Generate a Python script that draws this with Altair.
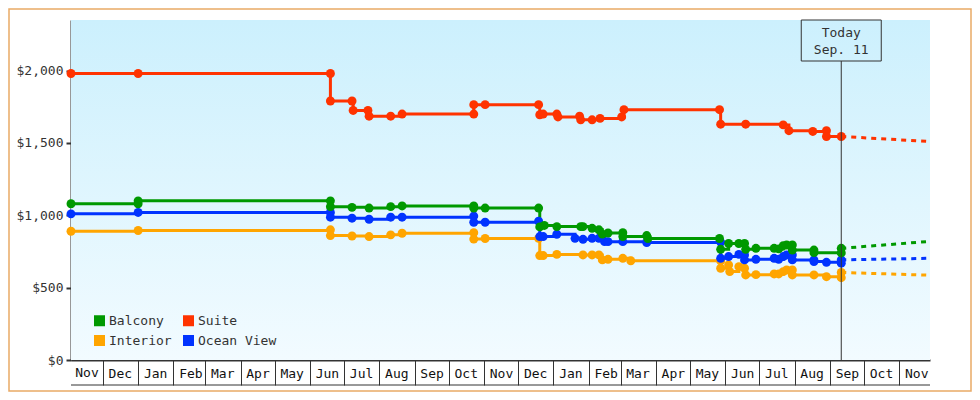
import altair as alt
import pandas as pd

FONT = "DejaVu Sans Mono"
W, H = 859, 340

# legend fills column by column, so this order gives rows Balcony/Suite, Interior/Ocean View
SERIES = ["Balcony", "Interior", "Suite", "Ocean View"]
COLORS = ["#009900", "#ffa500", "#ff3300", "#0033ff"]

# price history
SUITE_DATES = ["2013-11-03", "2014-01-01", "2014-06-19", "2014-06-19", "2014-07-08", "2014-07-09",
               "2014-07-22", "2014-07-23", "2014-08-11", "2014-08-21", "2014-10-23", "2014-10-23",
               "2014-11-02", "2014-12-19", "2014-12-20", "2014-12-23", "2015-01-04", "2015-01-05",
               "2015-01-24", "2015-01-25", "2015-02-04", "2015-02-11", "2015-03-02", "2015-03-04",
               "2015-05-27", "2015-05-28", "2015-06-19", "2015-07-22", "2015-07-27", "2015-08-17",
               "2015-08-29", "2015-08-29", "2015-09-11"]
SUITE_PRICES = [1980, 1980, 1980, 1790, 1790, 1725,
                1725, 1685, 1685, 1700, 1700, 1765,
                1765, 1765, 1695, 1700, 1700, 1680,
                1685, 1660, 1660, 1670, 1680, 1730,
                1730, 1630, 1630, 1625, 1585, 1580,
                1585, 1545, 1545]

BALCONY_DATES = ["2013-11-03", "2014-01-01", "2014-01-01", "2014-06-19", "2014-06-19", "2014-07-08",
                 "2014-07-23", "2014-08-11", "2014-08-21", "2014-10-23", "2014-10-23", "2014-11-02",
                 "2014-12-19", "2014-12-20", "2014-12-24", "2015-01-04", "2015-01-25", "2015-01-27",
                 "2015-02-04", "2015-02-10", "2015-02-13", "2015-02-18", "2015-03-03", "2015-03-03",
                 "2015-03-24", "2015-03-25", "2015-05-27", "2015-05-28", "2015-06-04", "2015-06-13",
                 "2015-06-18", "2015-06-19", "2015-06-28", "2015-07-14", "2015-07-18", "2015-07-22",
                 "2015-07-25", "2015-07-30", "2015-07-30", "2015-08-18", "2015-08-18", "2015-09-11",
                 "2015-09-11"]
BALCONY_PRICES = [1080, 1080, 1100, 1100, 1060, 1055,
                  1050, 1060, 1065, 1065, 1050, 1050,
                  1050, 920, 930, 922, 922, 922,
                  910, 900, 870, 878, 880, 853,
                  860, 840, 840, 765, 805, 805,
                  805, 765, 772, 772, 768, 790,
                  795, 795, 760, 760, 742, 740,
                  772]

OCEAN_DATES = ["2013-11-03", "2014-01-01", "2014-06-19", "2014-06-19", "2014-07-08", "2014-07-23",
               "2014-08-11", "2014-08-21", "2014-10-23", "2014-10-23", "2014-11-02", "2014-12-19",
               "2014-12-20", "2014-12-23", "2015-01-04", "2015-01-20", "2015-01-27", "2015-02-04",
               "2015-02-10", "2015-02-15", "2015-02-18", "2015-03-03", "2015-03-24", "2015-05-28",
               "2015-05-28", "2015-06-04", "2015-06-13", "2015-06-18", "2015-06-18", "2015-06-28",
               "2015-07-14", "2015-07-18", "2015-07-22", "2015-07-25", "2015-07-30", "2015-07-30",
               "2015-08-18", "2015-08-18", "2015-08-29", "2015-09-11", "2015-09-11"]
OCEAN_PRICES = [1010, 1020, 1020, 987, 980, 973,
                987, 987, 995, 952, 952, 960,
                853, 853, 869, 841, 834, 841,
                841, 818, 818, 818, 812, 815,
                703, 715, 730, 726, 692, 696,
                703, 696, 715, 726, 726, 692,
                692, 680, 675, 669, 692]

INTERIOR_DATES = ["2013-11-03", "2014-01-01", "2014-06-19", "2014-06-19", "2014-07-08", "2014-07-23",
                  "2014-08-11", "2014-08-21", "2014-10-23", "2014-10-23", "2014-11-02", "2014-12-19",
                  "2014-12-20", "2014-12-23", "2015-01-04", "2015-01-27", "2015-02-04", "2015-02-10",
                  "2015-02-13", "2015-02-18", "2015-03-03", "2015-03-10", "2015-05-28", "2015-05-28",
                  "2015-06-04", "2015-06-05", "2015-06-13", "2015-06-18", "2015-06-19", "2015-06-28",
                  "2015-07-14", "2015-07-18", "2015-07-22", "2015-07-25", "2015-07-30", "2015-07-30",
                  "2015-08-18", "2015-08-29", "2015-09-11", "2015-09-11"]
INTERIOR_PRICES = [890, 895, 900, 860, 857, 853,
                   865, 876, 880, 836, 840, 841,
                   722, 722, 730, 726, 726, 726,
                   692, 696, 703, 686, 685, 634,
                   657, 611, 645, 634, 588, 590,
                   595, 595, 611, 622, 622, 588,
                   588, 576, 569, 605]

TODAY = "2015-09-11"
DOMAIN_START = "2013-11-03"
FORECAST_END = "2015-11-28"
FORECAST_START = {"Interior": 605, "Ocean View": 692, "Balcony": 772, "Suite": 1545}
FORECAST_STOP = {"Interior": 586, "Ocean View": 703, "Balcony": 820, "Suite": 1510}

# month boundaries for the x axis boxes
MONTHS = [(2013, 11), (2013, 12)] + [(2014, m) for m in range(1, 13)] + [(2015, m) for m in range(1, 12)]

history = {
    "Interior": (INTERIOR_DATES, INTERIOR_PRICES),
    "Ocean View": (OCEAN_DATES, OCEAN_PRICES),
    "Balcony": (BALCONY_DATES, BALCONY_PRICES),
    "Suite": (SUITE_DATES, SUITE_PRICES),
}
rows = []
for name, (dates, prices) in history.items():
    for i, (d, p) in enumerate(zip(dates, prices)):
        rows.append({"series": name, "date": d, "price": p, "i": i})
hist = pd.DataFrame(rows)

fc = pd.DataFrame(
    [{"series": s, "date": TODAY, "price": FORECAST_START[s], "i": 0} for s in FORECAST_START]
    + [{"series": s, "date": FORECAST_END, "price": FORECAST_STOP[s], "i": 1} for s in FORECAST_STOP]
)
today = pd.DataFrame({"date": [TODAY]})
first_month = pd.DataFrame({"date": [DOMAIN_START], "label": ["Nov"]})
one = pd.DataFrame({"k": [0]})

x_enc = alt.X(
    "date:T",
    title=None,
    scale=alt.Scale(type="utc", domain=[alt.DateTime(year=2013, month=11, date=3, utc=True),
                                        alt.DateTime(year=2015, month=11, date=28, utc=True)]),
    axis=alt.Axis(
        values=[alt.DateTime(year=y, month=m, date=1, utc=True) for y, m in MONTHS],
        format="%b", grid=False,
        domainColor="#333", domainWidth=2,
        tickColor="#333", tickWidth=1, tickSize=25,
        labelFont=FONT, labelFontSize=13, labelColor="#111",
        labelOffset=17, labelPadding=-12, labelBaseline="middle", labelAlign="center",
        labelFlush=False, labelOverlap=False, labelBound=False,
    ),
)
y_enc = alt.Y(
    "price:Q",
    title=None,
    scale=alt.Scale(domain=[0, 2350], nice=False),
    axis=alt.Axis(
        values=[0, 500, 1000, 1500, 2000], format="$,d", grid=False,
        domainColor="#333", domainWidth=2,
        tickColor="#333", tickWidth=2, tickSize=5,
        labelFont=FONT, labelFontSize=13, labelColor="#333", labelPadding=3,
    ),
)
color_enc = alt.Color(
    "series:N",
    scale=alt.Scale(domain=SERIES, range=COLORS),
    legend=alt.Legend(
        title=None, orient="none", legendX=22, legendY=294, columns=2,
        symbolType="square", symbolSize=121, symbolStrokeWidth=0,
        labelFont=FONT, labelFontSize=13, labelColor="#333", labelOffset=3,
        columnPadding=10, rowPadding=6, padding=0,
    ),
)

bg = alt.Chart(one).mark_rect(
    fill=alt.Gradient(
        gradient="linear", x1=0, x2=0, y1=0, y2=1,
        stops=[alt.GradientStop(color="#ccf0fd", offset=0),
               alt.GradientStop(color="#f2fbff", offset=1)],
    )
).encode(x=alt.value(0), x2=alt.value(W), y=alt.value(0), y2=alt.value(H))

border = alt.Chart(one).mark_rect(fill=None, stroke="#e9aa66", strokeWidth=1.5).encode(
    x=alt.value(-62), x2=alt.value(W + 41), y=alt.value(-11), y2=alt.value(H + 31)
)

bottom_line = alt.Chart(one).mark_rule(color="#333", strokeWidth=1).encode(
    x=alt.value(0), x2=alt.value(W), y=alt.value(H + 25)
)

# the first month starts before the domain, so its label has no tick of its own
first_label = alt.Chart(first_month).mark_text(
    font=FONT, fontSize=13, color="#111", baseline="middle", align="center", dx=16
).encode(x=x_enc, y=alt.value(H + 13), text="label:N")

lines = alt.Chart(hist).mark_line(interpolate="step-after", strokeWidth=3).encode(
    x=x_enc, y=y_enc, color=color_enc, order="i:Q"
)
points = alt.Chart(hist).mark_circle(size=80, opacity=1).encode(
    x=x_enc, y=y_enc, color=color_enc
)
forecast = alt.Chart(fc).mark_line(strokeWidth=3, strokeDash=[5, 5]).encode(
    x=x_enc, y=y_enc, color=color_enc, order="i:Q"
)

today_rule = alt.Chart(today).mark_rule(color="#333", strokeWidth=1).encode(
    x=x_enc, y=alt.value(41), y2=alt.value(H)
)
today_box = alt.Chart(today).mark_rect(
    fill=None, stroke="#333", strokeWidth=1, xOffset=-40, x2Offset=40
).encode(x=x_enc, x2="date:T", y=alt.value(0), y2=alt.value(41))
today_top = alt.Chart(today).mark_text(
    font=FONT, fontSize=13, color="#333", baseline="middle", align="center"
).encode(x=x_enc, y=alt.value(13), text=alt.value("Today"))
today_bottom = alt.Chart(today).mark_text(
    font=FONT, fontSize=13, color="#333", baseline="middle", align="center"
).encode(x=x_enc, y=alt.value(30), text=alt.value("Sep. 11"))

chart = alt.layer(
    bg, border, bottom_line, first_label, lines, forecast, points,
    today_rule, today_box, today_top, today_bottom,
).properties(
    width=W, height=H,
    autosize=alt.AutoSizeParams(type="none"),
    padding={"left": 63, "top": 12, "right": 42, "bottom": 32},
    background="white",
).configure_view(stroke=None)

chart.save("out.html", embed_options={"renderer": "svg", "actions": False})
